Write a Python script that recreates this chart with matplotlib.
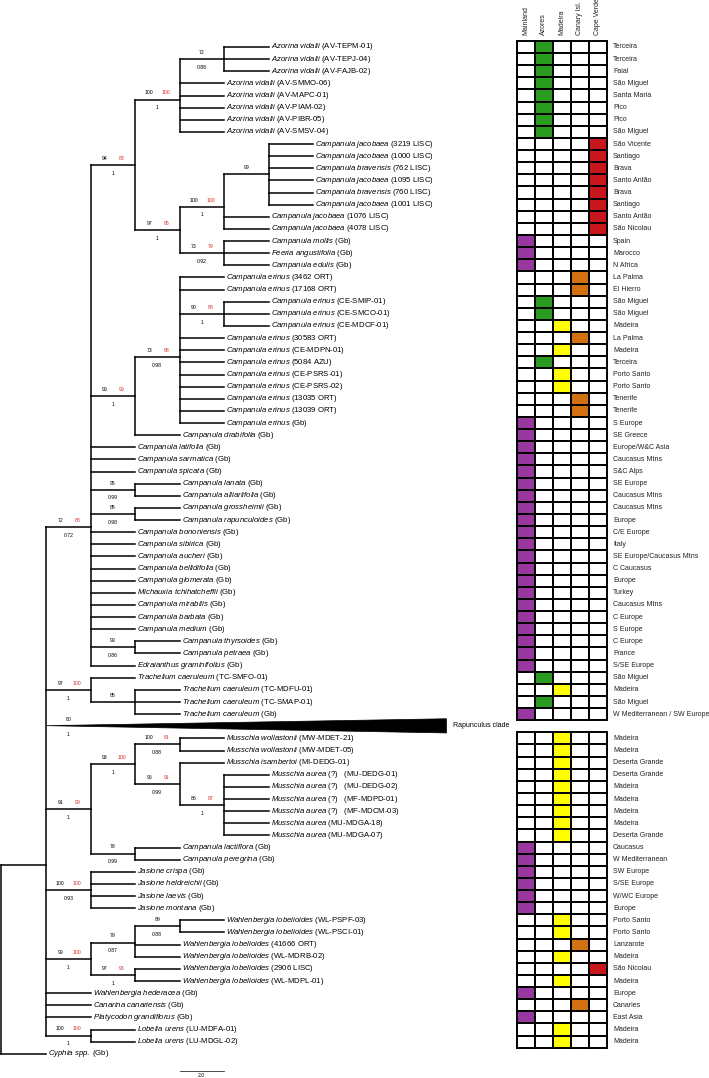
import matplotlib
matplotlib.use("Agg")
import matplotlib.pyplot as plt
from matplotlib.collections import LineCollection
from matplotlib.patches import Rectangle, Polygon

plt.rcParams['font.family'] = ['Liberation Sans', 'DejaVu Sans']
plt.rcParams['mathtext.fontset'] = 'custom'
plt.rcParams['mathtext.it'] = 'Liberation Sans:italic'
plt.rcParams['mathtext.rm'] = 'Liberation Sans'

# ==========================
# Data
# ==========================
# tip names (italic part) and voucher codes, in tree order (one row each)
species = (["Azorina vidalii"] * 8
           + ["Campanula jacobaea", "Campanula jacobaea", "Campanula bravensis",
              "Campanula jacobaea", "Campanula bravensis", "Campanula jacobaea",
              "Campanula jacobaea", "Campanula jacobaea",
              "Campanula mollis", "Feeria angustifolia", "Campanula edulis"]
           + ["Campanula erinus"] * 13
           + ["Campanula drabifolia", "Campanula latifolia", "Campanula sarmatica",
              "Campanula spicata", "Campanula lanata", "Campanula alliariifolia",
              "Campanula grossheimii", "Campanula rapunculoides",
              "Campanula bononiensis", "Campanula sibirica", "Campanula aucheri",
              "Campanula bellidifolia", "Campanula glomerata",
              "Michauxia tchihatcheffii", "Campanula mirabilis", "Campanula barbata",
              "Campanula medium", "Campanula thyrsoides", "Campanula petraea",
              "Edraianthus graminifolius"]
           + ["Trachelium caeruleum"] * 4
           + [""]
           + ["Musschia wollastonii", "Musschia wollastonii", "Musschia isambertoi"]
           + ["Musschia aurea"] * 6
           + ["Campanula lactiflora", "Campanula peregrina",
              "Jasione crispa", "Jasione heldreichii", "Jasione laevis",
              "Jasione montana"]
           + ["Wahlenbergia lobelioides"] * 6
           + ["Wahlenbergia hederacea", "Canarina canariensis",
              "Platycodon grandiflorus", "Lobelia urens", "Lobelia urens",
              "Cyphia spp."])

vouchers = ["(AV-TEPM-01)", "(AV-TEPJ-04)", "(AV-FAJB-02)", "(AV-SMMO-06)",
            "(AV-MAPC-01)", "(AV-PIAM-02)", "(AV-PIBR-05)", "(AV-SMSV-04)",
            "(3219 LISC)", "(1000 LISC)", "(762 LISC)", "(1095 LISC)",
            "(760 LISC)", "(1001 LISC)", "(1076 LISC)", "(4078 LISC)",
            "(Gb)", "(Gb)", "(Gb)",
            "(3462 ORT)", "(17168 ORT)", "(CE-SMIP-01)", "(CE-SMCO-01)",
            "(CE-MDCF-01)", "(30583 ORT)", "(CE-MDPN-01)", "(5084 AZU)",
            "(CE-PSRS-01)", "(CE-PSRS-02)", "(13035 ORT)", "(13039 ORT)", "(Gb)",
            ] + ["(Gb)"] * 20 + [
            "(TC-SMFO-01)", "(TC-MDFU-01)", "(TC-SMAP-01)", "(Gb)",
            "Rapunculus clade",
            "(MW-MDET-21)", "(MW-MDET-05)", "(MI-DEDG-01)",
            "(?)   (MU-DEDG-01)", "(?)   (MU-DEDG-02)", "(?)   (MF-MDPD-01)",
            "(?)   (MF-MDCM-03)", "(MU-MDGA-18)", "(MU-MDGA-07)",
            "(Gb)", "(Gb)", "(Gb)", "(Gb)", "(Gb)", "(Gb)",
            "(WL-PSPF-03)", "(WL-PSCI-01)", "(41666 ORT)", "(WL-MDRB-02)",
            "(2906 LISC)", "(WL-MDPL-01)",
            "(Gb)", "(Gb)", "(Gb)", "(LU-MDFA-01)", "(LU-MDGL-02)", "(Gb)"]

# distribution: area column per tip (None = no grid row)
areas = ["Mainland", "Azores", "Madeira", "Canary Isl.", "Cape Verde"]
area_colors = ["#96389f", "#2b9a20", "#ffff00", "#d3700f", "#c8161d"]
M, A, D, C, V = 0, 1, 2, 3, 4
tip_area = ([A] * 8 + [V] * 8 + [M] * 3 + [C, C, A, A, D, C, D, A, D, D, C, C]
            + [M] * 21 + [A, D, A, M] + [None]
            + [D] * 9 + [M] * 6 + [D, D, C, D, V, D, M, C, M, D, D] + [None])

localities = ["Terceira", "Terceira", "Faial", "São Miguel", "Santa Maria",
              "Pico", "Pico", "São Miguel", "São Vicente", "Santiago", "Brava",
              "Santo Antão", "Brava", "Santiago", "Santo Antão", "São Nicolau",
              "Spain", "Marocco", "N Africa", "La Palma", "El Hierro",
              "São Miguel", "São Miguel", "Madeira", "La Palma", "Madeira",
              "Terceira", "Porto Santo", "Porto Santo", "Tenerife", "Tenerife",
              "S Europe", "SE Greece", "Europe/W&C Asia", "Caucasus Mtns",
              "S&C Alps", "SE Europe", "Caucasus Mtns", "Caucasus Mtns", "Europe",
              "C/E Europe", "Italy", "SE Europe/Caucasus Mtns", "C Caucasus",
              "Europe", "Turkey", "Caucasus Mtns", "C Europe", "S Europe",
              "C Europe", "France", "S/SE Europe", "São Miguel", "Madeira",
              "São Miguel", "W Mediterranean / SW Europe", "",
              "Madeira", "Madeira", "Deserta Grande", "Deserta Grande", "Madeira",
              "Madeira", "Madeira", "Madeira", "Deserta Grande",
              "Caucasus", "W Mediterranean", "SW Europe", "S/SE Europe",
              "W/WC Europe", "Europe", "Porto Santo", "Porto Santo", "Lanzarote",
              "Madeira", "São Nicolau", "Madeira", "Europe", "Canaries",
              "East Asia", "Madeira", "Madeira", ""]

# topology: tips are indices into the lists above,
# text after ':' = support (bootstrap / second bootstrap / posterior, '-' = none)
az = "((0,1,2):72/-/0.88,3,4,5,6,7):100/100/1"
cv = "(((8,9,10,11,12,13):99/-/-,14,15):100/100/1,(16,17,18):73/79/0.92):97/95/1"
er = "(19,20,(21,22,23):90/88/1,24,25,26,27,28,29,30,31):73/98/0.98"
camp = ("((" + az + "," + cv + "):94/88/1,(" + er + ",32):99/99/1,33,34,35,"
        "(36,37):95/-/0.99,(38,39):85/-/0.98,40,41,42,43,44,45,46,47,48,"
        "(49,50):99/-/0.86,51):72/88/0.72")
trach = "(52,(53,54,55):85/-/-):97/100/1"
muss = "((57,58):100/81/0.88,(59,(60,61,62,63,64,65):86/87/1):96/91/0.99):93/100/1"
lact = "(66,67):78/-/0.99"
jas = "(68,69,70,71):100/100/0.93"
wahl = "(((72,73):89/-/0.88,74,75):79/-/0.87,(76,77):97/96/1):99/100/1"
lob = "(81,82):100/100/1"
tree = ("((" + camp + "," + trach + ",56:80/-/1,(" + muss + "," + lact
        + "):91/99/1," + jas + "," + wahl + ",78,79,80," + lob + "),83)")

collapsed = {56: 10}     # collapsed clade: tip -> depth level of its triangle
branch = 2.0             # cladogram: every branch drawn with length 2.0
scale_len = 2.0


# ==========================
# Parse tree
# ==========================
def parse(s, i=0):
    node = {"children": [], "tip": None, "support": None}
    if s[i] == "(":
        i += 1
        while True:
            child, i = parse(s, i)
            node["children"].append(child)
            if s[i] == ",":
                i += 1
            else:
                i += 1  # ')'
                break
    j = i
    while j < len(s) and s[j] not in ",()":
        j += 1
    token = s[i:j]
    name, _, sup = token.partition(":")
    if name:
        node["tip"] = int(name)
    if sup:
        node["support"] = sup.split("/")
    return node, j


root, _ = parse(tree)


def layout(node, level):
    node["x"] = level * branch
    if node["tip"] is not None:
        node["y"] = node["tip"] + 1
    else:
        for c in node["children"]:
            layout(c, level + 1)
        ys = [c["y"] for c in node["children"]]
        node["y"] = sum(ys) / len(ys)


layout(root, 0)

# ==========================
# Figure
# ==========================
W, H = 709, 1078
fig = plt.figure(figsize=(W / 100, H / 100), dpi=100)
px_unit = 22.25
row_px = 12.13
ylim = (1 + (H - 47) / row_px, 1 - 47 / row_px)

ax = fig.add_axes([0, 0, 1, 1])
ax.set_xlim(-1.5 / px_unit, (W - 1.5) / px_unit)
ax.set_ylim(*ylim)
ax.axis("off")

segs = []
lw = 1.1


def draw(node, parent=None):
    if parent is not None:
        if node["tip"] in collapsed:
            tx = collapsed[node["tip"]] * branch
            ax.add_patch(Polygon([(parent["x"], node["y"] - 0.05),
                                  (tx, node["y"] - 0.62),
                                  (tx, node["y"] + 0.55)],
                                 closed=True, fc="black", ec="black", lw=0.5))
            ax.text(tx + 0.3, node["y"] - 0.05, vouchers[node["tip"]],
                    fontsize=5.0, va="center", ha="left")
        else:
            segs.append([(parent["x"], node["y"]), (node["x"], node["y"])])
        sup = node["support"]
        if sup:
            x0, x1 = parent["x"], parent["x"] + branch
            if sup[1] != "-":
                ax.text(x0 + 0.32 * branch, node["y"] - 0.55, sup[0],
                        fontsize=3.7, ha="center", va="center")
                ax.text(x0 + 0.7 * branch, node["y"] - 0.55, sup[1],
                        fontsize=3.7, ha="center", va="center", color="#d42a2a")
            else:
                ax.text((x0 + x1) / 2, node["y"] - 0.55, sup[0],
                        fontsize=3.7, ha="center", va="center")
            if sup[2] != "-":
                ax.text((x0 + x1) / 2, node["y"] + 0.68, sup[2],
                        fontsize=3.7, ha="center", va="center")
    if node["children"]:
        ys = [c["y"] for c in node["children"]]
        segs.append([(node["x"], min(ys)), (node["x"], max(ys))])
        for c in node["children"]:
            draw(c, node)
    elif node["tip"] not in collapsed:
        k = node["tip"]
        name = species[k].replace(" ", r"\ ")
        ax.text(node["x"] + 0.1, node["y"],
                r"$\mathit{" + name + "}$ " + vouchers[k],
                fontsize=5.6, va="center", ha="left")


draw(root)
ax.add_collection(LineCollection(segs, colors="black", linewidths=lw,
                                 capstyle="projecting"))

# scale bar
ax.plot([8.0, 8.0 + scale_len], [85.4, 85.4], color="black", lw=0.5)
ax.text(8.0 + scale_len / 2, 85.75, f"{scale_len:.1f}", fontsize=3.7,
        ha="center", va="center")

# ==========================
# Distribution grid
# ==========================
gx = fig.add_axes([516.7 / W, 0, 90.3 / W, 1])
gx.set_xlim(0, 5)
gx.set_ylim(*ylim)
gx.axis("off")

for k, a in enumerate(tip_area):
    if a is None:
        continue
    row = k + 1
    for col in range(5):
        fc = area_colors[col] if col == a else "white"
        gx.add_patch(Rectangle((col, row - 0.5), 1, 1, fc=fc, ec="black",
                               lw=1.4, clip_on=False))
    gx.text(5.33, row, localities[k], fontsize=5.0, va="center", ha="left",
            color="#222222", clip_on=False)

for col, name in enumerate(areas):
    gx.text(col + 0.5, 0.0, name, rotation=90, fontsize=5.0, ha="center",
            va="bottom", color="#222222", clip_on=False)

fig.savefig("out.png", dpi=100)
plt.close()
